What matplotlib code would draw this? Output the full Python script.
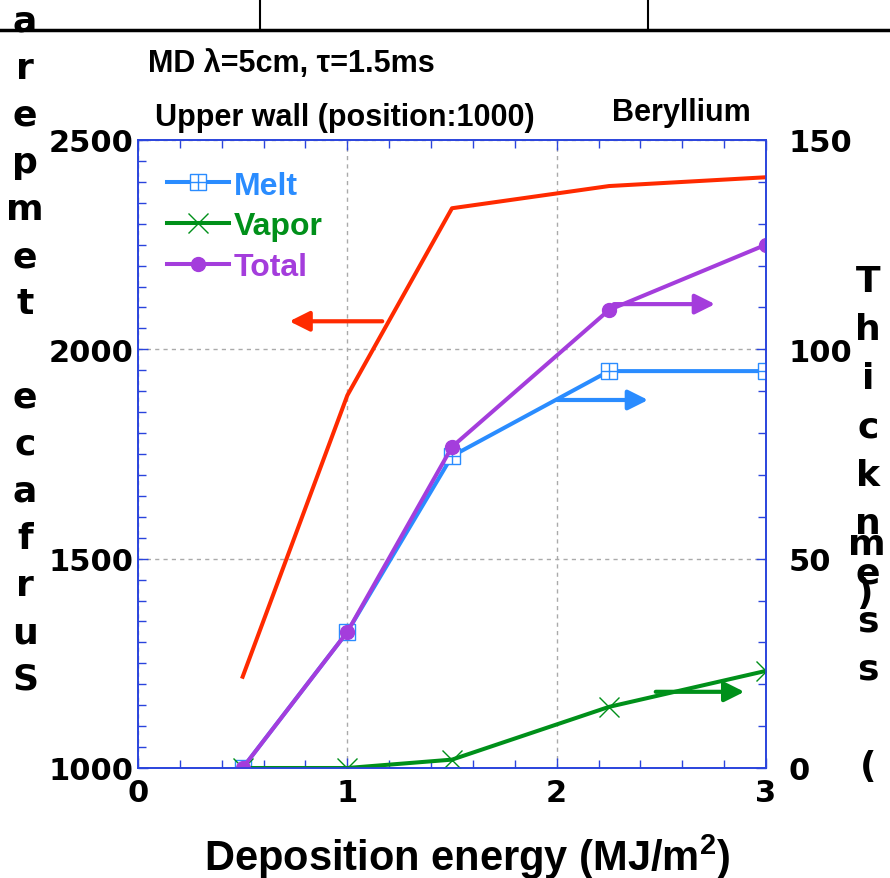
import matplotlib
matplotlib.use('Agg')
import matplotlib.pyplot as plt
from matplotlib.ticker import MultipleLocator
from matplotlib.legend_handler import HandlerTuple

plt.rcParams['font.family'] = ['Liberation Sans', 'DejaVu Sans']
plt.rcParams['font.weight'] = 'bold'
plt.rcParams['mathtext.fontset'] = 'custom'
plt.rcParams['mathtext.bf'] = 'Liberation Sans:bold'

# Data
energy = [0.5, 1.0, 1.5, 2.25, 3.0]
surface_temp = [1218, 1890, 2337, 2390, 2411]
melt = [0, 32.5, 74.5, 94.8, 94.8]
vapor = [0, 0, 2, 14.6, 23.2]
total = [0, 32.5, 76.7, 109.4, 125]

W, H = 890, 879
fig = plt.figure(figsize=(W / 100, H / 100), dpi=100)


def fx(x):
    return x / W


def fy(y):
    return 1 - y / H


ax = fig.add_axes([fx(138), fy(769), fx(766) - fx(138), fy(141) - fy(769)])
ax2 = ax.twinx()

red = '#ff2a00'
blue = '#2a8cff'
green = '#00901a'
purple = '#a43ddc'
spine_c = '#2a44dd'

ax.plot(energy, surface_temp, color=red, lw=2.9, zorder=3)
ln_m, = ax2.plot(energy, melt, color=blue, lw=2.9, marker='s', ms=11,
                 mfc='white', mec=blue, mew=1.0)
ln_mp, = ax2.plot(energy, melt, color=blue, lw=0, marker='+', ms=11, mew=1.0)
ln_v, = ax2.plot(energy, vapor, color=green, lw=2.9, marker='x', ms=14,
                 mew=1.0)
ln_t, = ax2.plot(energy, total, color=purple, lw=2.9, marker='o', ms=10)

ax.set_xlim(0, 3)
ax.set_ylim(1000, 2500)
ax2.set_ylim(0, 150)

ax.xaxis.set_major_locator(MultipleLocator(1))
ax.xaxis.set_minor_locator(MultipleLocator(0.2))
ax.yaxis.set_major_locator(MultipleLocator(500))
ax.yaxis.set_minor_locator(MultipleLocator(50))
ax2.yaxis.set_major_locator(MultipleLocator(50))
ax2.yaxis.set_minor_locator(MultipleLocator(10))

ax.grid(True, which='major', color='#aaaaaa', ls=(0, (3, 3)), lw=1.0)

for a in (ax, ax2):
    for s in a.spines.values():
        s.set_color(spine_c)
        s.set_linewidth(1.2)
ax.tick_params(which='both', direction='in', color=spine_c, top=True,
               labelsize=22)
ax.tick_params(which='major', length=7, width=1.0)
ax.tick_params(which='minor', length=6, width=1.0)
ax.tick_params(axis='y', pad=3)
ax.tick_params(axis='x', pad=7)
ax2.tick_params(which='both', direction='in', color=spine_c, labelsize=22,
                pad=16)
ax2.tick_params(which='major', length=7, width=1.0)
ax2.tick_params(which='minor', length=6, width=1.0)
for lab in ax.get_xticklabels() + ax.get_yticklabels() + ax2.get_yticklabels():
    lab.set_fontweight('bold')
    lab.set_fontfamily('DejaVu Sans')

# arrows pointing to the axis each curve belongs to
ap = dict(arrowstyle='-|>', lw=3, mutation_scale=30)
ax.annotate('', xy=(0.71, 2067), xytext=(1.18, 2067),
            arrowprops=dict(ap, color=red))
ax2.annotate('', xy=(2.45, 87.9), xytext=(1.99, 87.9),
             arrowprops=dict(ap, color=blue))
ax2.annotate('', xy=(2.77, 110.8), xytext=(2.26, 110.8),
             arrowprops=dict(ap, color=purple))
ax2.annotate('', xy=(2.91, 18.2), xytext=(2.46, 18.2),
             arrowprops=dict(ap, color=green))

leg = ax2.legend([(ln_m, ln_mp), ln_v, ln_t], ['Melt', 'Vapor', 'Total'],
                 handler_map={tuple: HandlerTuple(ndivide=1)},
                 loc='upper left', bbox_to_anchor=(0.0, 0.997),
                 frameon=False, handlelength=1.95, handletextpad=0.15,
                 labelspacing=0.33, prop={'size': 23, 'weight': 'bold'})
for t, c in zip(leg.get_texts(), [blue, green, purple]):
    t.set_color(c)

# texts above the plot
fig.text(fx(148), fy(72), 'MD \u03bb=5cm, \u03c4=1.5ms', fontsize=22,
         fontweight='bold', va='baseline')
fig.text(fx(155), fy(126), 'Upper wall (position:1000)', fontsize=22,
         fontweight='bold', va='baseline')
fig.text(fx(612), fy(121), 'Beryllium', fontsize=22, fontweight='bold',
         va='baseline')
fig.text(fx(467), fy(871), 'Deposition energy (MJ/m$^\\mathbf{2}$)',
         fontsize=30, fontweight='bold', ha='center', va='baseline')

# stacked axis titles as in the reference
stack = dict(fontsize=26, fontweight='bold', family='DejaVu Sans',
             va='baseline')
left_letters = 'arepmet ecafruS'
for i, ch in enumerate(left_letters):
    fig.text(fx(25), fy(32 + 47 * i), ch, ha='center', **stack)
right_letters = 'Thickness ('
for i, ch in enumerate(right_letters):
    fig.text(fx(868), fy(292 + 48.5 * i), ch, ha='center', **stack)
fig.text(fx(848), fy(555), 'm', ha='left', **stack)
fig.text(fx(864), fy(604), ')', ha='center', **stack)

# header rule
fig.add_artist(plt.Line2D([0, 1], [fy(31), fy(31)], color='black', lw=2.5))
fig.add_artist(plt.Line2D([fx(260), fx(260)], [fy(31), 1], color='black',
                          lw=1.5))
fig.add_artist(plt.Line2D([fx(648), fx(648)], [fy(31), 1], color='black',
                          lw=1.5))

fig.savefig('out.png', dpi=100)
